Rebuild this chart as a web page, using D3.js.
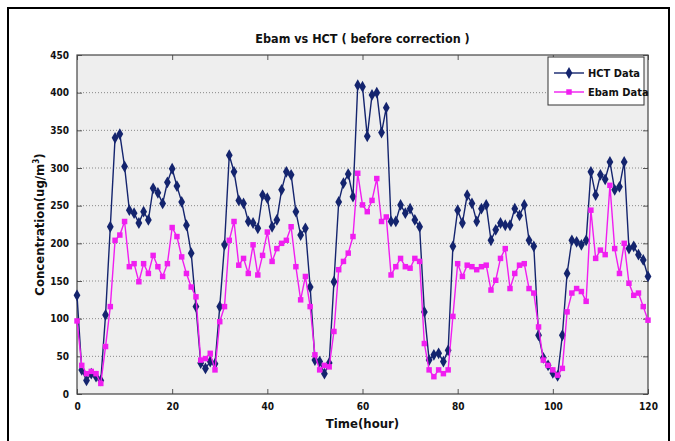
<!DOCTYPE html>
<html>
<head>
<meta charset="utf-8">
<script src="https://cdn.jsdelivr.net/npm/d3@7"></script>
<style>
body { margin: 0; background: #fff; }
text { font-family: "Liberation Sans Narrow", "DejaVu Sans Condensed", "Liberation Sans", Arial, sans-serif; }
</style>
</head>
<body>
<div id="chart"></div>
<script>
var w = 675;
var h = 441;

var hours = d3.range(0, 121);
var hctData = [131, 32, 18, 27, 23, 18, 105, 222, 340, 345, 302, 244, 240, 227, 242, 231, 273, 267, 253, 281,
    299, 276, 255, 224, 187, 116, 41, 34, 43, 40, 116, 198, 317, 295, 257, 253, 229, 227, 220, 264,
    260, 222, 231, 271, 295, 291, 242, 211, 220, 142, 45, 43, 27, 41, 149, 255, 280, 292, 262, 410,
    408, 342, 397, 400, 347, 380, 229, 229, 251, 240, 246, 231, 222, 109, 45, 52, 54, 43, 58, 196,
    244, 227, 264, 253, 229, 246, 251, 204, 218, 227, 224, 224, 246, 237, 251, 204, 196, 78, 48, 38,
    28, 24, 78, 160, 204, 202, 198, 204, 295, 264, 291, 285, 308, 271, 275, 308, 193, 196, 185, 178,
    156];
var ebamData = [97, 38, 27, 30, 27, 14, 63, 116, 204, 211, 229, 169, 173, 149, 173, 160, 184, 169, 156, 173,
    221, 209, 182, 160, 142, 129, 45, 47, 54, 32, 96, 116, 204, 229, 171, 180, 160, 198, 158, 184,
    215, 176, 193, 200, 204, 222, 169, 125, 156, 116, 52, 32, 38, 36, 83, 165, 176, 187, 209, 293,
    251, 242, 257, 286, 229, 235, 158, 169, 180, 169, 167, 180, 176, 67, 32, 23, 32, 27, 32, 103,
    173, 156, 171, 169, 165, 169, 171, 138, 151, 180, 193, 140, 160, 171, 173, 140, 134, 89, 45, 38,
    32, 25, 34, 109, 134, 140, 136, 123, 244, 180, 191, 185, 277, 193, 160, 200, 147, 131, 134, 116,
    98];
var xTicks = [0, 20, 40, 60, 80, 100, 120];
var yTicks = [0, 50, 100, 150, 200, 250, 300, 350, 400, 450];

var series = [
    { name: "HCT Data", values: hctData, color: "#14246e", symbol: d3.symbolDiamond, size: 40 },
    { name: "Ebam Data", values: ebamData, color: "#f01ef0", symbol: d3.symbolSquare, size: 30 }
];

var pLeft = 77, pRight = 648, pTop = 55, pBottom = 394;

var svg = d3.select("#chart")
    .append("svg")
    .attr("width", w)
    .attr("height", h);

// outer frame
svg.append("rect")
    .attr("x", 8).attr("y", 8)
    .attr("width", 661).attr("height", 445)
    .attr("fill", "#fff")
    .attr("stroke", "#000")
    .attr("stroke-width", 2);

var x = d3.scaleLinear().domain([0, 120]).range([pLeft, pRight]);
var y = d3.scaleLinear().domain([0, 450]).range([pBottom, pTop]);

svg.append("rect")
    .attr("x", pLeft).attr("y", pTop)
    .attr("width", pRight - pLeft).attr("height", pBottom - pTop)
    .attr("fill", "#eeeeee");

// horizontal dotted grid
svg.append("g")
    .selectAll("line")
    .data(yTicks.slice(1, -1))
    .enter()
    .append("line")
    .attr("x1", pLeft).attr("x2", pRight)
    .attr("y1", function (d) { return y(d); })
    .attr("y2", function (d) { return y(d); })
    .attr("stroke", "#888")
    .attr("stroke-width", 1)
    .attr("stroke-dasharray", "1,2");

function styleAxis(g) {
    g.select(".domain").remove();
    g.selectAll(".tick line").attr("stroke", "#555");
    g.selectAll(".tick text")
        .attr("font-size", "10px")
        .attr("font-weight", "bold")
        .attr("fill", "#111");
}

svg.append("g")
    .attr("transform", "translate(0," + pBottom + ")")
    .call(d3.axisBottom(x).tickValues(xTicks).tickSizeInner(-5).tickSizeOuter(0).tickPadding(9))
    .call(styleAxis);

svg.append("g")
    .attr("transform", "translate(0," + pTop + ")")
    .call(d3.axisTop(x).tickValues(xTicks).tickSizeInner(-5).tickSizeOuter(0).tickFormat(""))
    .call(styleAxis);

svg.append("g")
    .attr("transform", "translate(" + pLeft + ",0)")
    .call(d3.axisLeft(y).tickValues(yTicks).tickSizeInner(-5).tickSizeOuter(0).tickPadding(8))
    .call(styleAxis);

svg.append("g")
    .attr("transform", "translate(" + pRight + ",0)")
    .call(d3.axisRight(y).tickValues(yTicks).tickSizeInner(-5).tickSizeOuter(0).tickFormat(""))
    .call(styleAxis);

svg.append("rect")
    .attr("x", pLeft).attr("y", pTop)
    .attr("width", pRight - pLeft).attr("height", pBottom - pTop)
    .attr("fill", "none")
    .attr("stroke", "#444")
    .attr("stroke-width", 1.2);

var line = d3.line()
    .x(function (d, i) { return x(hours[i]); })
    .y(function (d) { return y(d); });

series.forEach(function (s) {
    var g = svg.append("g");
    g.append("path")
        .datum(s.values)
        .attr("d", line)
        .attr("fill", "none")
        .attr("stroke", s.color)
        .attr("stroke-width", 1.4);
    g.selectAll("path.pt")
        .data(s.values)
        .enter()
        .append("path")
        .attr("class", "pt")
        .attr("d", d3.symbol().type(s.symbol).size(s.size))
        .attr("transform", function (d, i) { return "translate(" + x(hours[i]) + "," + y(d) + ")"; })
        .attr("fill", s.color);
});

// legend
var legend = svg.append("g").attr("transform", "translate(548,57)");
legend.append("rect")
    .attr("width", 96).attr("height", 48)
    .attr("fill", "#fff")
    .attr("stroke", "#333")
    .attr("stroke-width", 1);
series.forEach(function (s, i) {
    var ly = 16 + i * 19;
    legend.append("line")
        .attr("x1", 6).attr("x2", 36)
        .attr("y1", ly).attr("y2", ly)
        .attr("stroke", s.color)
        .attr("stroke-width", 1.4);
    legend.append("path")
        .attr("d", d3.symbol().type(s.symbol).size(s.size))
        .attr("transform", "translate(21," + ly + ")")
        .attr("fill", s.color);
    legend.append("text")
        .attr("x", 40).attr("y", ly + 4)
        .attr("font-size", "11px")
        .attr("font-weight", "bold")
        .attr("fill", "#111")
        .text(s.name);
});

// titles
svg.append("text")
    .attr("x", (pLeft + pRight) / 2).attr("y", 43)
    .attr("text-anchor", "middle")
    .attr("font-size", "12.5px")
    .attr("font-weight", "bold")
    .attr("fill", "#111")
    .text("Ebam vs HCT ( before correction )");

svg.append("text")
    .attr("x", (pLeft + pRight) / 2).attr("y", 428)
    .attr("text-anchor", "middle")
    .attr("font-size", "13px")
    .attr("font-weight", "bold")
    .attr("fill", "#111")
    .text("Time(hour)");

var yl = svg.append("text")
    .attr("transform", "translate(44," + (pTop + pBottom) / 2 + ") rotate(-90)")
    .attr("text-anchor", "middle")
    .attr("font-family", "'Liberation Sans', Arial, sans-serif")
    .attr("font-size", "13px")
    .attr("font-weight", "bold")
    .attr("fill", "#111");
yl.append("tspan").text("Concentration(ug/m");
yl.append("tspan").attr("font-size", "8px").attr("dy", -5).text("3");
yl.append("tspan").attr("dy", 5).text(")");
</script>
</body>
</html>
